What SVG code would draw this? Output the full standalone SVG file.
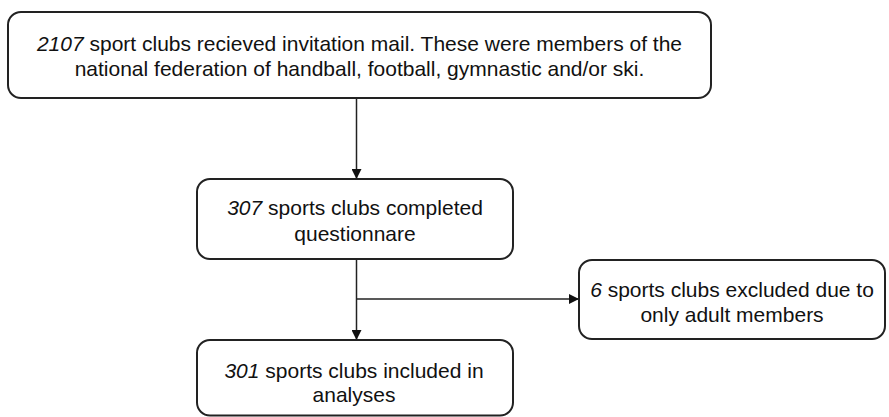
<svg xmlns="http://www.w3.org/2000/svg" width="889" height="417" viewBox="0 0 889 417">
<defs>
<style>
.box{fill:#fff;stroke:#222;stroke-width:2}
.t{font-family:"Liberation Sans",Arial,sans-serif;font-size:21px;fill:#111;text-anchor:middle}
.i{font-style:italic}
.c{fill:none;stroke:#222;stroke-width:1.5}
</style>
<marker id="ah" viewBox="0 0 10 10" refX="10" refY="5" markerWidth="10" markerHeight="10" markerUnits="userSpaceOnUse" orient="auto">
<path d="M0,0 L10,5 L0,10 z" fill="#111"/>
</marker>
</defs>
<rect width="889" height="417" fill="#fff"/>
<g id="connectors">
<line class="c" x1="356.5" y1="98" x2="356.5" y2="179" marker-end="url(#ah)"/>
<line class="c" x1="356.5" y1="259" x2="356.5" y2="340" marker-end="url(#ah)"/>
<line class="c" x1="356.5" y1="299" x2="579" y2="299" marker-end="url(#ah)"/>
</g>
<g id="n1">
<rect class="box" x="8" y="12" width="703" height="86" rx="13"/>
<text class="t" x="359.5" y="50.5"><tspan class="i">2107</tspan> sport clubs recieved invitation mail. These were members of the</text>
<text class="t" x="359.5" y="76">national federation of handball, football, gymnastic and/or ski.</text>
</g>
<g id="n2">
<rect class="box" x="197" y="179" width="316" height="80" rx="13"/>
<text class="t" x="355" y="215"><tspan class="i">307</tspan> sports clubs completed</text>
<text class="t" x="355" y="241">questionnare</text>
</g>
<g id="n3">
<rect class="box" x="579" y="260" width="306" height="79" rx="13"/>
<text class="t" x="732" y="297"><tspan class="i">6</tspan> sports clubs excluded due to</text>
<text class="t" x="732" y="322">only adult members</text>
</g>
<g id="n4">
<rect class="box" x="197" y="340" width="316" height="75.5" rx="13"/>
<text class="t" x="354" y="377.5"><tspan class="i">301</tspan> sports clubs included in</text>
<text class="t" x="354" y="402">analyses</text>
</g>
</svg>
